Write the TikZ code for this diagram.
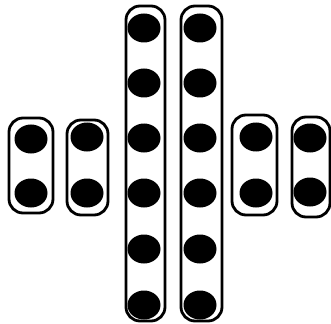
\documentclass[tikz,border=0pt]{standalone}
\begin{document}
\begin{tikzpicture}[x=1pt,y=-1pt,
  pod/.style={draw=black,line width=2.8pt,rounded corners=14pt}]
\useasboundingbox (0,0) rectangle (331,323);
\clip (0,0) rectangle (331,323);
% small pods
\draw[pod] (9,118) rectangle (53,213);
\draw[pod] (67,120) rectangle (108,215);
\draw[pod] (232,115) rectangle (277,215);
\draw[pod] (292,117) rectangle (330,217);
% long pods
\draw[pod] (126,6) rectangle (165,321);
\draw[pod] (181,6) rectangle (222,321);
% dots of small pods
\foreach \x/\ya/\yb in {31/139/193, 87/137/193, 256/137/193, 310/138/192}{
  \fill (\x,\ya) ellipse [x radius=16.5, y radius=14.5];
  \fill (\x,\yb) ellipse [x radius=16.5, y radius=14.5];
}
% dots of long pods
\foreach \x in {144,200}{
  \foreach \y in {28,83,138,193,249,305}{
    \fill (\x,\y) ellipse [x radius=16.5, y radius=14.5];
  }
}
\end{tikzpicture}
\end{document}
